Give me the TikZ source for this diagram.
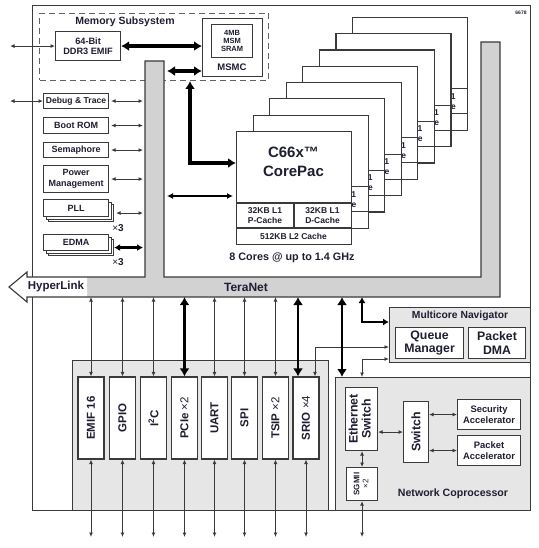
\documentclass[tikz,border=0pt]{standalone}
\usepackage{fontspec}
\setmainfont{Liberation Sans}
\usetikzlibrary{arrows.meta}
\definecolor{ln}{HTML}{3A3A3A}
\definecolor{txt}{HTML}{1E1E32}
\definecolor{tng}{HTML}{D2D2D2}
\definecolor{lg}{HTML}{E6E6E6}
\newcommand\fsz[2]{\fontsize{#1}{#2}\selectfont\bfseries}
\begin{document}
\begin{tikzpicture}[x=1pt,y=-1pt,
  box/.style={draw=ln, line width=1.1pt, fill=white, inner sep=0pt, align=center, text=txt},
  grp/.style={draw=ln, line width=1.1pt, fill=lg, inner sep=0pt},
  lbl/.style={inner sep=0pt, text=txt, align=center},
  arr/.style={draw=ln, line width=0.9pt, {Latex[length=4.5pt,width=4pt]}-{Latex[length=4.5pt,width=4pt]}},
  barr/.style={draw=black, line width=1.4pt, {Latex[length=6pt,width=6pt]}-{Latex[length=6pt,width=6pt]}},
  marr/.style={draw=black, line width=2pt, {Latex[length=6pt,width=7pt]}-{Latex[length=6pt,width=7pt]}},
  tarr/.style={draw=black, line width=3.2pt, {Latex[length=8pt,width=10pt]}-{Latex[length=8pt,width=10pt]}},
]
\useasboundingbox (0,0) rectangle (538,548);
% outer frame
\draw[draw=ln, line width=1pt] (32,6) rectangle (530,510);
\node[lbl, font=\fsz{5}{6}] (code) at (521,13) {6678};

% memory subsystem
\node[draw=ln!80, line width=1pt, dash pattern=on 6pt off 4pt, minimum width=229, minimum height=67, anchor=north west, inner sep=0pt] (mem) at (39,13) {};
\node[lbl, font=\fsz{10.5}{12}] (memt) at (125,22) {Memory Subsystem};
\node[box, minimum width=65, minimum height=29, anchor=north west, font=\fsz{9.2}{10.5}] (ddr) at (55,31) {64-Bit\\DDR3 EMIF};
\node[box, minimum width=60, minimum height=58, anchor=north west] (msmc) at (202,18) {};
\node[box, minimum width=41, minimum height=33, anchor=north west, font=\fsz{7.5}{8.3}] (sram) at (211,24) {4MB\\MSM\\SRAM};
\node[lbl, font=\fsz{9.5}{11}] (msmct) at (232,67) {MSMC};
\coordinate (ddrx) at (10,0);
\draw[arr] (ddrx |- ddr.west) -- (ddr.west);
\draw[tarr] (ddr.east) -- (ddr.east -| msmc.west);

% TeraNet
\fill[tng] (87,277) -- (145,277) -- (145,61) -- (164,61) -- (164,277) -- (481,277) -- (481,42) -- (500,42) -- (500,297) -- (87,297) -- cycle;
\fill[white] (9,287) -- (27,272) -- (27,277) -- (87,277) -- (87,297) -- (27,297) -- (27,302) -- cycle;
\draw[draw=ln, line width=1.1pt] (9,287) -- (27,272) -- (27,277) -- (145,277) -- (145,61) -- (164,61) -- (164,277) -- (481,277) -- (481,42) -- (500,42) -- (500,297) -- (27,297) -- (27,302) -- cycle;
\node[lbl, font=\fsz{11.5}{13}] (hl) at (56,287) {HyperLink};
\node[lbl, font=\fsz{12}{13}] (tn) at (246,287.5) {TeraNet};
\coordinate (tnl) at (145,0);
\coordinate (tnr) at (164,0);
\coordinate (tnb) at (0,297);
\coordinate (ext) at (0,537);

% left panel
\node[box, minimum width=65, minimum height=15, anchor=north west, font=\fsz{8.6}{10}] (dbg) at (43,93) {Debug \& Trace};
\node[box, minimum width=65, minimum height=16, anchor=north west, font=\fsz{9}{10}] (boot) at (43,117) {Boot ROM};
\node[box, minimum width=65, minimum height=15, anchor=north west, font=\fsz{9}{10}] (sema) at (43,142) {Semaphore};
\node[box, minimum width=65, minimum height=27, anchor=north west, font=\fsz{9}{10.5}] (pwr) at (43,165) {Power\\Management};
\node[box, minimum width=65, minimum height=17, anchor=north west] (pllb) at (48,204) {};
\node[box, minimum width=65, minimum height=17, anchor=north west] (plla) at (45.5,201.5) {};
\node[box, minimum width=65, minimum height=17, anchor=north west, font=\fsz{9}{10}] (pll) at (43,199) {PLL};
\node[box, minimum width=65, minimum height=16, anchor=north west] (edmab) at (48,239) {};
\node[box, minimum width=65, minimum height=16, anchor=north west] (edmaa) at (45.5,236.5) {};
\node[box, minimum width=65, minimum height=16, anchor=north west, font=\fsz{9}{10}] (edma) at (43,234) {EDMA};
\node[lbl, font=\fsz{10}{11}] (x3a) at (118,228) {\mdseries×\bfseries3};
\node[lbl, font=\fsz{10}{11}] (x3b) at (118,262) {\mdseries×\bfseries3};
\draw[arr] (ddrx |- dbg.west) -- (dbg.west);
\foreach \b in {dbg,boot,sema,pwr,pllb}
  \draw[arr, shorten <=2pt, shorten >=2pt] (\b.east) -- (\b.east -| tnl);
\draw[marr, line width=2.6pt, shorten <=0pt, shorten >=2pt] (edmab.east) -- (edmab.east -| tnl);

% cores
\foreach \i in {7,6,...,1}{
  \begin{scope}[shift={(16.57*\i,-16.3*\i)}]
    \node[box, minimum width=115, minimum height=113, anchor=north west] (core\i) at (236,131) {};
    \draw[draw=ln, line width=1.1pt] (236,203) -- (351,203) (236,228) -- (351,228) (294,203) -- (294,228);
    \node[lbl, font=\fsz{8.5}{10}] (l1d\i) at (322.5,215.5) {32KB L1\\D-Cache};
  \end{scope}
}
\node[box, minimum width=115, minimum height=113, anchor=north west] (core0) at (236,131) {};
\draw[draw=ln, line width=1.1pt] (236,203) -- (351,203) (236,228) -- (351,228) (294,203) -- (294,228);
\node[lbl, font=\fsz{15}{19}] (cpt) at (293.5,162) {C66x™\\CorePac};
\node[lbl, font=\fsz{8.5}{10}] (l1p) at (265,215.5) {32KB L1\\P-Cache};
\node[lbl, font=\fsz{8.5}{10}] (l1d0) at (322.5,215.5) {32KB L1\\D-Cache};
\node[lbl, font=\fsz{8.5}{10}] (l2) at (293.5,236) {512KB L2 Cache};
\node[lbl, font=\fsz{10.8}{12}] (cores) at (292,258) {8 Cores @ up to 1.4 GHz};
\coordinate (cj) at (190,163);
\draw[tarr] (mem.south -| cj) -- (cj) -- (cj -| core0.west);
\coordinate (mb) at (164,71);
\draw[tarr, shorten <=3pt] (mb) -- (mb -| msmc.west);
\coordinate (cb) at (164,196);
\draw[barr, shorten <=3pt, shorten >=3pt] (cb) -- (cb -| core0.west);

% peripherals
\node[grp, minimum width=256, minimum height=150, anchor=north west] (periph) at (72,360) {};
\foreach \n/\cx/\pl in {1/91/{EMIF 16},2/122.5/GPIO,3/153.5/{I\textsuperscript{2}C},4/184.5/{PCIe \mdseries×2},5/214.5/UART,6/244.5/SPI,7/275.5/{TSIP \mdseries×2},8/306/{SRIO \mdseries×4}}{
  \node[box, minimum width=26, minimum height=82] (pe\n) at (\cx,418) {\rotatebox{90}{\fsz{11.5}{13}\pl}};
}
\foreach \n in {1,2,3,5,6,7}
  \draw[arr] (pe\n.north |- tnb) -- (pe\n.north);
\draw[tarr, line width=2.6pt] (pe4.north |- tnb) -- (pe4.north);
\foreach \n in {1,...,8}
  \draw[arr] (pe\n.south) -- (pe\n.south |- ext);
\coordinate (srt) at (298,0);
\draw[tarr, line width=2.6pt] (srt |- tnb) -- (srt |- pe8.north);

% multicore navigator
\node[grp, minimum width=141, minimum height=55, anchor=north west] (mn) at (389,307) {};
\node[lbl, font=\fsz{10.3}{12}] (mnt) at (460,316) {Multicore Navigator};
\node[box, minimum width=68, minimum height=31, anchor=north west, font=\fsz{12.3}{13.5}] (qm) at (395,327) {Queue\\Manager};
\node[box, minimum width=57, minimum height=31, anchor=north west, font=\fsz{12.3}{13.5}] (pdma) at (468,327) {Packet\\DMA};
\coordinate (srl) at (315,347);
\draw[arr] (srl |- pe8.north) -- (srl) -- (srl -| mn.west);

% network coprocessor
\node[grp, minimum width=195, minimum height=133, anchor=north west] (nc) at (335,377) {};
\node[lbl, font=\fsz{10.6}{12}] (nct) at (453,494) {Network Coprocessor};
\node[box, minimum width=32, minimum height=63, anchor=north west] (eth) at (345,387) {\rotatebox{90}{\fsz{12.3}{13}\begin{tabular}{@{}c@{}}Ethernet\\Switch\end{tabular}}};
\node[box, minimum width=31, minimum height=33, anchor=north west] (sg) at (346,467) {\rotatebox{90}{\fsz{8}{9}\begin{tabular}{@{}c@{}}SGMII\\\mdseries×2\end{tabular}}};
\node[box, minimum width=25, minimum height=61, anchor=north west] (sw) at (403,401) {\rotatebox{90}{\fsz{12.3}{13}Switch}};
\node[box, minimum width=63, minimum height=30, anchor=north west, font=\fsz{9.4}{10.5}] (sec) at (457,399) {Security\\Accelerator};
\node[box, minimum width=63, minimum height=30, anchor=north west, font=\fsz{9.4}{10.5}] (pka) at (457,435) {Packet\\Accelerator};
\draw[arr] (eth.east |- sw.west) -- (sw.west);
\draw[arr] (sw.east |- sec.west) -- (sec.west);
\draw[arr] (sw.east |- pka.west) -- (pka.west);
\draw[arr] (sg.north |- eth.south) -- (sg.north);
\draw[arr] (sg.south) -- (sg.south |- ext);
\coordinate (nct2) at (342,0);
\draw[tarr, line width=2.6pt] (nct2 |- tnb) -- (nct2 |- nc.north);
\coordinate (ml) at (362,322);
\draw[marr] (ml |- tnb) -- (ml) -- (ml -| mn.west);
\coordinate (tl) at (362,359);
\draw[arr] (tl |- nc.north) -- (tl) -- (tl -| mn.west);
\end{tikzpicture}
\end{document}
